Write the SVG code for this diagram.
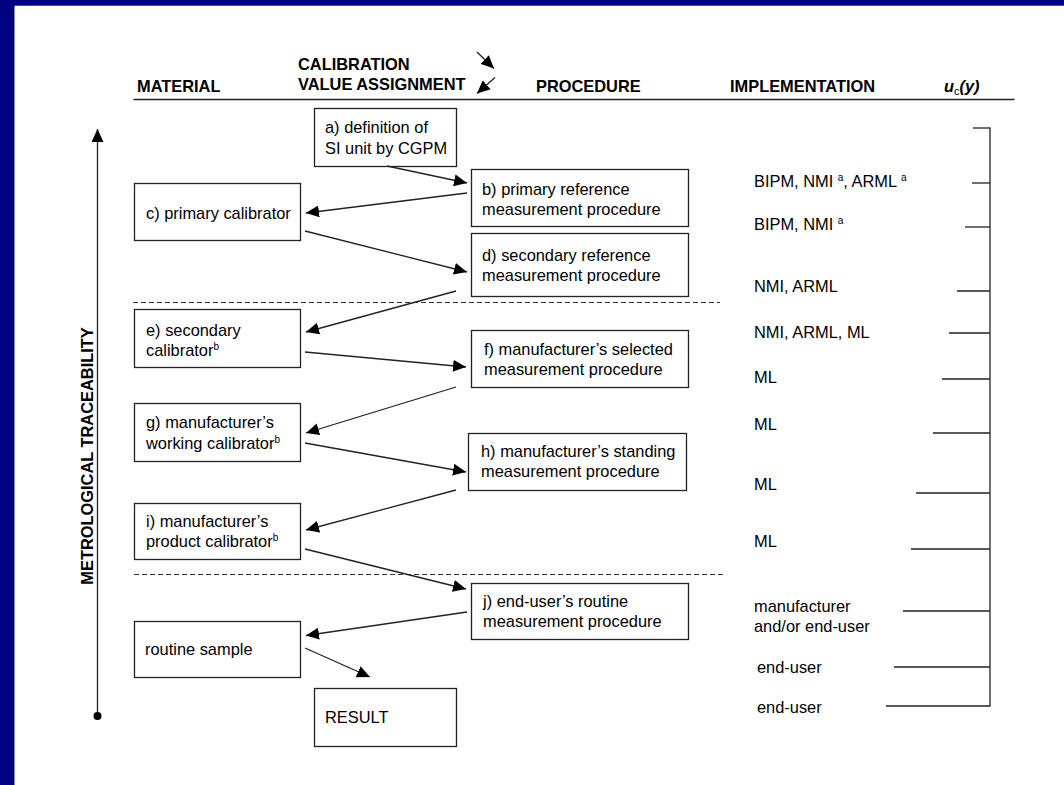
<svg xmlns="http://www.w3.org/2000/svg" width="1064" height="785" viewBox="0 0 1064 785">
<defs>
<style>
text{font-family:"Liberation Sans",Arial,sans-serif;font-size:16.4px;fill:#000}
.h{font-weight:bold}
.box{fill:#fff;stroke:#222;stroke-width:1.3}
.ln{stroke:#222;stroke-width:1.3;fill:none}
.dash{stroke:#333;stroke-width:1.2;stroke-dasharray:5 3;fill:none}
.sup{font-size:10px}
</style>
<marker id="ah" markerUnits="userSpaceOnUse" markerWidth="14" markerHeight="12" refX="13" refY="6" orient="auto">
<path d="M0,0 L13,6 L0,12 Z" fill="#000"/>
</marker>
</defs>
<rect x="0" y="0" width="1064" height="785" fill="#000080"/>
<rect x="14.5" y="5.7" width="1049.5" height="779.3" fill="#fff"/>

<g id="headers">
<text class="h" x="137" y="92">MATERIAL</text>
<text class="h" x="298" y="69.5">CALIBRATION</text>
<text class="h" x="298" y="89.5">VALUE ASSIGNMENT</text>
<text class="h" x="536" y="92">PROCEDURE</text>
<text class="h" x="730" y="92">IMPLEMENTATION</text>
<text x="944" y="92"><tspan class="h" font-style="italic">u</tspan><tspan font-size="11px" dy="3">c</tspan><tspan class="h" font-style="italic" dy="-3">(y)</tspan></text>
<line class="ln" x1="133.5" y1="99.5" x2="1014.5" y2="99.5"/>
</g>

<g id="traceability">
<line class="ln" x1="97.5" y1="716" x2="97.5" y2="129" marker-end="url(#ah)"/>
<circle cx="97.5" cy="716" r="4" fill="#000"/>
<text class="h" transform="translate(93,456) rotate(-90)" text-anchor="middle" font-size="17px">METROLOGICAL TRACEABILITY</text>
</g>

<g id="separators">
<line class="dash" x1="133" y1="302.5" x2="720" y2="302.5"/>
<line class="dash" x1="134" y1="574.5" x2="723" y2="574.5"/>
</g>

<g id="node-a"><rect class="box" x="314.5" y="108.5" width="142" height="58"/><text x="325" y="133">a) definition of</text><text x="325" y="154">SI unit by CGPM</text></g>
<g id="node-b"><rect class="box" x="471.5" y="169.5" width="217" height="57"/><text x="482" y="195">b) primary reference</text><text x="482" y="215">measurement procedure</text></g>
<g id="node-c"><rect class="box" x="134.5" y="183.5" width="166" height="57"/><text x="146" y="219">c) primary calibrator</text></g>
<g id="node-d"><rect class="box" x="471.5" y="233.5" width="217" height="63"/><text x="482" y="261">d) secondary reference</text><text x="482" y="281">measurement procedure</text></g>
<g id="node-e"><rect class="box" x="134.5" y="309.5" width="166" height="58"/><text x="146" y="336">e) secondary</text><text x="146" y="356">calibrator<tspan class="sup" dy="-6">b</tspan></text></g>
<g id="node-f"><rect class="box" x="471.5" y="330.5" width="217" height="57"/><text x="484" y="355">f) manufacturer’s selected</text><text x="484" y="375">measurement procedure</text></g>
<g id="node-g"><rect class="box" x="134.5" y="403.5" width="166" height="58"/><text x="146" y="428">g) manufacturer’s</text><text x="146" y="449">working calibrator<tspan class="sup" dy="-6">b</tspan></text></g>
<g id="node-h"><rect class="box" x="468.5" y="433.5" width="218" height="57"/><text x="481" y="457">h) manufacturer’s standing</text><text x="481" y="477">measurement procedure</text></g>
<g id="node-i"><rect class="box" x="134.5" y="503.5" width="166" height="56"/><text x="146" y="527">i) manufacturer’s</text><text x="146" y="547">product calibrator<tspan class="sup" dy="-6">b</tspan></text></g>
<g id="node-j"><rect class="box" x="471.5" y="583.5" width="217" height="56"/><text x="483" y="607">j) end-user’s routine</text><text x="483" y="627">measurement procedure</text></g>
<g id="node-routine"><rect class="box" x="134.5" y="621.5" width="166" height="56"/><text x="145" y="655">routine sample</text></g>
<g id="node-result"><rect class="box" x="314.5" y="688.5" width="142" height="58"/><text x="325" y="723">RESULT</text></g>

<g id="connectors">
<line class="ln" x1="477" y1="52" x2="494" y2="68.5" marker-end="url(#ah)"/>
<line class="ln" x1="495" y1="77.5" x2="477" y2="93.5" marker-end="url(#ah)"/>
<line class="ln" x1="387" y1="166" x2="467" y2="183" marker-end="url(#ah)"/>
<line class="ln" x1="467" y1="193" x2="306" y2="213" marker-end="url(#ah)"/>
<line class="ln" x1="305" y1="231" x2="467" y2="272" marker-end="url(#ah)"/>
<line class="ln" x1="456" y1="291" x2="306" y2="332" marker-end="url(#ah)"/>
<line class="ln" x1="305" y1="352" x2="466" y2="367" marker-end="url(#ah)"/>
<line class="ln" x1="456" y1="387" x2="306" y2="433" marker-end="url(#ah)"/>
<line class="ln" x1="305" y1="443" x2="466" y2="472" marker-end="url(#ah)"/>
<line class="ln" x1="456" y1="490" x2="306" y2="530" marker-end="url(#ah)"/>
<line class="ln" x1="305" y1="549" x2="466" y2="589" marker-end="url(#ah)"/>
<line class="ln" x1="467" y1="612" x2="306" y2="635.5" marker-end="url(#ah)"/>
<line class="ln" x1="305" y1="648" x2="370" y2="677" marker-end="url(#ah)"/>
</g>

<g id="implementation">
<text x="754" y="187">BIPM, NMI <tspan class="sup" dy="-6">a</tspan><tspan dy="6">, ARML </tspan><tspan class="sup" dy="-6">a</tspan></text>
<text x="754" y="230">BIPM, NMI <tspan class="sup" dy="-6">a</tspan></text>
<text x="754" y="292">NMI, ARML</text>
<text x="754" y="338">NMI, ARML, ML</text>
<text x="754" y="383">ML</text>
<text x="754" y="430">ML</text>
<text x="754" y="490">ML</text>
<text x="754" y="547">ML</text>
<text x="754" y="612">manufacturer</text>
<text x="754" y="632">and/or end-user</text>
<text x="757" y="673">end-user</text>
<text x="757" y="713">end-user</text>
</g>

<g id="uncertainty">
<line class="ln" x1="990" y1="127.5" x2="990" y2="706.5"/>
<line class="ln" x1="973" y1="128" x2="990" y2="128"/>
<line class="ln" x1="972" y1="183" x2="990" y2="183"/>
<line class="ln" x1="965" y1="227" x2="990" y2="227"/>
<line class="ln" x1="957" y1="291" x2="990" y2="291"/>
<line class="ln" x1="949" y1="333" x2="990" y2="333"/>
<line class="ln" x1="942" y1="379" x2="990" y2="379"/>
<line class="ln" x1="933" y1="433" x2="990" y2="433"/>
<line class="ln" x1="916" y1="493" x2="990" y2="493"/>
<line class="ln" x1="911" y1="549" x2="990" y2="549"/>
<line class="ln" x1="903" y1="611" x2="990" y2="611"/>
<line class="ln" x1="894" y1="667" x2="990" y2="667"/>
<line class="ln" x1="886" y1="706" x2="990" y2="706"/>
</g>
</svg>
